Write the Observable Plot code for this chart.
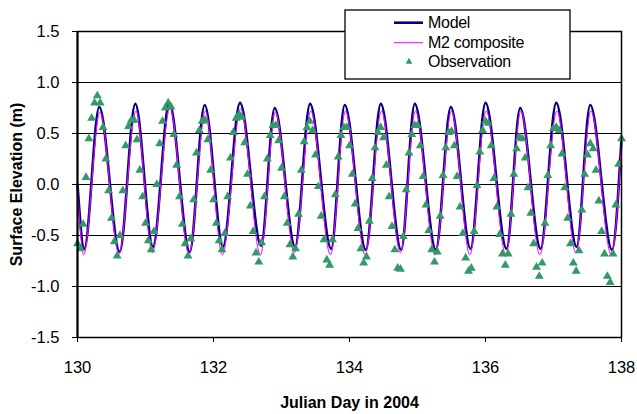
<!DOCTYPE html>
<html>
<head>
<meta charset="utf-8">
<script src="https://cdn.jsdelivr.net/npm/d3@7"></script>
<script src="https://cdn.jsdelivr.net/npm/@observablehq/plot@0.6"></script>
<style>
  html, body { margin: 0; padding: 0; background: #fff; }
  #chart svg { display: block; }
</style>
</head>
<body>
<div id="chart"></div>
<script>
// Modelled surface elevation: successive high/low water turning points (day, m)
const modelDay = [130.00, 130.10, 130.32, 130.62, 130.85, 131.11, 131.35, 131.65, 131.87, 132.14,
  132.39, 132.70, 132.90, 133.20, 133.42, 133.73, 133.93, 134.24, 134.46, 134.76, 134.96, 135.27,
  135.49, 135.78, 136.00, 136.31, 136.51, 136.81, 137.04, 137.34, 137.54, 137.86, 138.00];
const modelElev = [0.00, -0.63, 0.76, -0.66, 0.79, -0.61, 0.80, -0.66, 0.78, -0.61,
  0.80, -0.60, 0.75, -0.61, 0.79, -0.63, 0.78, -0.64, 0.79, -0.64, 0.79, -0.64,
  0.76, -0.63, 0.80, -0.63, 0.75, -0.63, 0.80, -0.61, 0.78, -0.64, 0.45];

// M2 harmonic composite turning points
const m2Day = [130.00, 130.09, 130.33, 130.61, 130.86, 131.10, 131.36, 131.64, 131.88, 132.13,
  132.40, 132.69, 132.91, 133.19, 133.43, 133.72, 133.94, 134.23, 134.47, 134.75, 134.97, 135.26,
  135.50, 135.77, 136.01, 136.30, 136.52, 136.80, 137.05, 137.33, 137.55, 137.85, 138.00];
const m2Elev = [-0.02, -0.69, 0.71, -0.68, 0.72, -0.67, 0.75, -0.69, 0.72, -0.69,
  0.74, -0.69, 0.71, -0.67, 0.72, -0.69, 0.72, -0.69, 0.72, -0.67, 0.72, -0.69,
  0.72, -0.69, 0.72, -0.69, 0.72, -0.69, 0.72, -0.67, 0.72, -0.69, 0.40];

// Hourly observed surface elevation (m), starting at day 130.0
const obsStartDay = 130;
const obsStepHours = 1;
const obsElev = [
  -0.58, -0.63, -0.39, 0.07, 0.45, 0.65, 0.80, 0.87, 0.80, 0.56,
  0.25, -0.06, -0.33, -0.56, -0.70, -0.50, -0.06, 0.38, 0.57, 0.63,
  0.63, 0.44, 0.14, -0.12, -0.38, -0.55, -0.64, -0.46, 0.00, 0.40,
  0.62, 0.75, 0.80, 0.76, 0.49, 0.19, -0.12, -0.39, -0.58, -0.70,
  -0.53, -0.15, 0.31, 0.53, 0.62, 0.63, 0.44, 0.14, -0.15, -0.38,
  -0.55, -0.64, -0.48, -0.12, 0.26, 0.51, 0.65, 0.69, 0.66, 0.41,
  0.10, -0.21, -0.46, -0.67, -0.76, -0.57, -0.12, 0.25, 0.48, 0.58,
  0.58, 0.43, 0.16, -0.12, -0.38, -0.59, -0.71, -0.63, -0.29, 0.14,
  0.42, 0.56, 0.62, 0.53, 0.29, -0.02, -0.31, -0.54, -0.74, -0.79,
  -0.54, -0.10, 0.27, 0.48, 0.56, 0.56, 0.38, 0.10, -0.19, -0.43,
  -0.63, -0.77, -0.71, -0.36, 0.06, 0.36, 0.51, 0.56, 0.46, 0.19,
  -0.12, -0.41, -0.64, -0.82, -0.83, -0.51, -0.05, 0.31, 0.49, 0.58,
  0.58, 0.38, 0.08, -0.20, -0.45, -0.64, -0.76, -0.66, -0.31, 0.09,
  0.36, 0.51, 0.52, 0.38, 0.08, -0.22, -0.48, -0.72, -0.85, -0.82,
  -0.46, -0.01, 0.32, 0.53, 0.62, 0.60, 0.38, 0.06, -0.22, -0.49,
  -0.68, -0.79, -0.68, -0.29, 0.10, 0.35, 0.46, 0.45, 0.26, -0.03,
  -0.28, -0.58, -0.81, -0.90, -0.77, -0.38, 0.09, 0.38, 0.55, 0.56,
  0.53, 0.30, -0.03, -0.33, -0.58, -0.77, -0.85, -0.65, -0.25, 0.10,
  0.29, 0.40, 0.35, 0.14, -0.16, -0.46, -0.68, -0.90, -0.96, -0.68,
  -0.20, 0.20, 0.45
];

const xTicks = [130, 132, 134, 136, 138];
const yTicks = [-1.5, -1.0, -0.5, 0.0, 0.5, 1.0, 1.5];
const gridLevels = [-1.0, -0.5, 0.0, 0.5, 1.0];

const seriesNames = ["Model", "M2 composite", "Observation"];
const modelColor = "#000080";
const m2Color = "#ff00ff";
const obsColor = "#339966";
const font = "Arial, 'Liberation Sans', Helvetica, sans-serif";

const model = modelDay.map((day, i) => ({day, elev: modelElev[i]}));
const m2 = m2Day.map((day, i) => ({day, elev: m2Elev[i]}));
const obs = obsElev.map((elev, i) => ({day: obsStartDay + i * obsStepHours / 24, elev}));

const chart = Plot.plot({
  width: 637,
  height: 414,
  marginLeft: 77,
  marginRight: 16,
  marginTop: 31,
  marginBottom: 77,
  style: {fontFamily: font, fontSize: "16.5px", color: "#000", background: "#fff"},
  x: {domain: [130, 138]},
  y: {domain: [-1.5, 1.5]},
  marks: [
    Plot.ruleY(gridLevels, {stroke: "#000", strokeWidth: 1}),
    Plot.line(model, {x: "day", y: "elev", stroke: modelColor, strokeWidth: 2.6, curve: "monotone-x"}),
    Plot.line(m2, {x: "day", y: "elev", stroke: m2Color, strokeWidth: 1, curve: "monotone-x"}),
    Plot.dot(obs, {x: "day", y: "elev", symbol: "triangle", r: 3.3, fill: obsColor, stroke: "none"}),
    Plot.frame({stroke: "#000", strokeWidth: 1.5}),
    Plot.ruleX([130], {stroke: "#000", strokeWidth: 2}),
    Plot.axisX({
      ticks: xTicks, tickSize: 5, tickPadding: 19, tickFormat: d => String(d),
      label: "Julian Day in 2004", labelAnchor: "center", labelOffset: 70, labelArrow: "none"
    }),
    Plot.axisY({
      ticks: yTicks, tickSize: 5, tickPadding: 13, tickFormat: d => d.toFixed(1),
      label: "Surface Elevation (m)", labelAnchor: "center", labelOffset: 67, labelArrow: "none"
    })
  ]
});

document.getElementById("chart").appendChild(chart);

// Bold axis titles
const svg = d3.select(chart);
svg.selectAll('g[aria-label="x-axis label"] text, g[aria-label="y-axis label"] text')
  .attr("font-weight", "bold")
  .attr("font-size", "16px");

// Legend box over the top-right of the plot
const legend = svg.append("g")
  .attr("font-family", font)
  .attr("font-size", 16)
  .attr("text-anchor", "start")
  .attr("letter-spacing", "-0.3px");
legend.append("rect")
  .attr("x", 345).attr("y", 10).attr("width", 225).attr("height", 69)
  .attr("fill", "#fff").attr("stroke", "#000").attr("stroke-width", 1.3);

const rows = [22.7, 42.7, 61.7];
legend.append("line")
  .attr("x1", 394).attr("x2", 423).attr("y1", rows[0]).attr("y2", rows[0])
  .attr("stroke", modelColor).attr("stroke-width", 2.6);
legend.append("line")
  .attr("x1", 394).attr("x2", 423).attr("y1", rows[1]).attr("y2", rows[1])
  .attr("stroke", m2Color).attr("stroke-width", 1);
legend.append("path")
  .attr("transform", `translate(409,${rows[2]})`)
  .attr("d", d3.symbol(d3.symbolTriangle, 20)())
  .attr("fill", obsColor);

seriesNames.forEach((name, i) => {
  legend.append("text")
    .attr("x", 428).attr("y", rows[i]).attr("dy", "0.36em")
    .attr("text-anchor", "start")
    .attr("fill", "#000")
    .text(name);
});
</script>
</body>
</html>
